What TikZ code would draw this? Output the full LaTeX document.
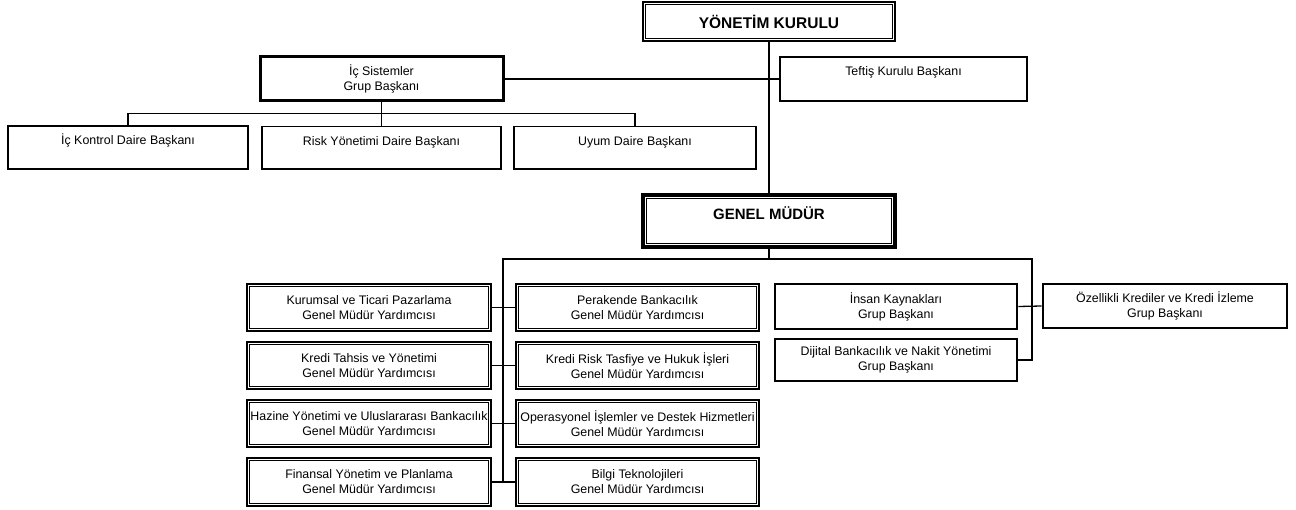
\documentclass[tikz,border=0pt]{standalone}
\usepackage{fontspec}
\setmainfont{Liberation Sans}
\begin{document}
\begin{tikzpicture}[x=1pt,y=-1pt]
\tikzset{
 conn/.style={line width=1.3pt},
 base/.style={draw, rectangle, inner sep=0pt, align=center, font=\fontsize{12.4}{15}\selectfont},
 thinbox/.style={base, line width=1.5pt},
 thickbox/.style={base, line width=3pt},
 grpbox/.style={base, line width=2.6pt},
 gmybox/.style={base, line width=2pt},
 topbox/.style={text height=18.5pt, text depth=#1},
}
\newcommand{\orgbox}[7]{\node[#2, minimum width={(#5-#3)*1pt}, minimum height={(#6-#4)*1pt}] (#1) at ({(#3+#5)/2},{(#4+#6)/2}) {#7};}
\newcommand{\myframe}[3]{\draw[line width=#3] ([shift={(#2,#2)}]#1.north west) rectangle ([shift={(-#2,-#2)}]#1.south east);}
\fill[white] (0,0) rectangle (1296,510);
\useasboundingbox (0,0) rectangle (1296,510);

% top level
\orgbox{yk}{base, line width=1.8pt, font=\bfseries\fontsize{15.5}{18}\selectfont}{643}{2}{895}{41}{YÖNETİM KURULU}
\myframe{yk}{3.5}{0.9pt}
\orgbox{tef}{thinbox, topbox=25.5pt}{780}{57}{1027}{101}{Teftiş Kurulu Başkanı}
\orgbox{isg}{thickbox}{260}{57}{503}{101}{İç Sistemler\\Grup Başkanı}
\orgbox{ick}{thinbox, topbox=24.5pt}{8}{126}{248}{169}{İç Kontrol Daire Başkanı}
\orgbox{risk}{thinbox, topbox=24pt}{262}{127}{501}{169}{Risk Yönetimi Daire Başkanı}
\orgbox{uyum}{thinbox, topbox=24pt}{514}{127}{756}{169}{Uyum Daire Başkanı}
\orgbox{gm}{base, line width=3.5pt, font=\bfseries\fontsize{15}{18}\selectfont, text height=24.5pt, text depth=27.5pt}{643}{195}{895}{247}{GENEL MÜDÜR}
\myframe{gm}{5}{0.8pt}

% GMY columns
\orgbox{l1}{gmybox}{247}{284}{491}{331}{Kurumsal ve Ticari Pazarlama\\Genel Müdür Yardımcısı}
\orgbox{l2}{gmybox}{247}{342}{491}{389}{Kredi Tahsis ve Yönetimi\\Genel Müdür Yardımcısı}
\orgbox{l3}{gmybox}{247}{400}{491}{447}{Hazine Yönetimi ve Uluslararası Bankacılık\\Genel Müdür Yardımcısı}
\orgbox{l4}{gmybox}{247}{458}{491}{506}{Finansal Yönetim ve Planlama\\Genel Müdür Yardımcısı}
\orgbox{r1}{gmybox}{516}{284}{759}{331}{Perakende Bankacılık\\Genel Müdür Yardımcısı}
\orgbox{r2}{gmybox}{516}{342}{759}{389}{Kredi Risk Tasfiye ve Hukuk İşleri\\Genel Müdür Yardımcısı}
\orgbox{r3}{gmybox}{516}{400}{759}{447}{Operasyonel İşlemler ve Destek Hizmetleri\\Genel Müdür Yardımcısı}
\orgbox{r4}{gmybox}{516}{458}{759}{506}{Bilgi Teknolojileri\\Genel Müdür Yardımcısı}
\foreach \n in {l1,l2,l3,l4,r1,r2,r3,r4} {\myframe{\n}{3.5}{0.8pt}}

% group heads
\orgbox{ins}{grpbox}{775}{284}{1017}{329}{İnsan Kaynakları\\Grup Başkanı}
\orgbox{dij}{grpbox}{775}{339}{1017}{381}{Dijital Bankacılık ve Nakit Yönetimi\\Grup Başkanı}
\orgbox{oz}{grpbox}{1043}{284}{1287}{328}{Özellikli Krediler ve Kredi İzleme\\Grup Başkanı}

% connectors
\draw[conn] (yk.south) -- (gm.north);
\draw[conn] (isg.east) -- (tef.west);
\draw[conn] (isg.south) -- (risk.north);
\draw[conn] (ick.north) -- ++(0,-12) -| (uyum.north);
\coordinate (sp) at (503,259);
\coordinate (sq) at (1032,259);
\draw[conn] (gm.south) |- (sp) -- (sp |- l4.east);
\draw[conn] (gm.south |- sp) -- (sq) |- (dij.east);
\draw[conn] (l1.east) -- (r1.west);
\draw[conn] (l2.east) -- (r2.west);
\draw[conn] (l3.east) -- (r3.west);
\draw[conn] (l4.east) -- (r4.west);
\draw[conn] (ins.east) -- (oz.west);
\end{tikzpicture}
\end{document}
